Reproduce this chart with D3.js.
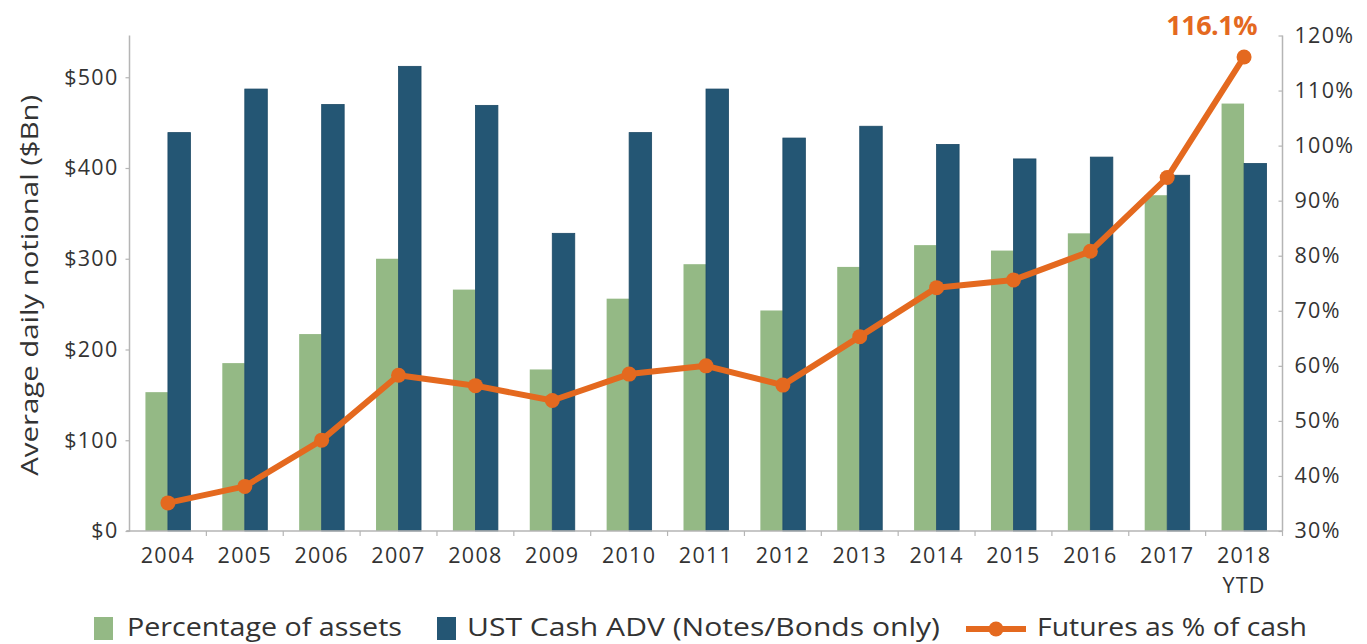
<!DOCTYPE html>
<html><head><meta charset="utf-8">
<script src="https://cdn.jsdelivr.net/npm/d3@7"></script>
<style>
html,body{margin:0;padding:0;background:#fff;}
svg{display:block;font-family:"Open Sans",sans-serif;}
</style></head>
<body><svg id="chart" width="1367" height="644"></svg>
<script>
const years = ["2004","2005","2006","2007","2008","2009","2010","2011","2012","2013","2014","2015","2016","2017","2018"];
const xTickLabels = [["2004"],["2005"],["2006"],["2007"],["2008"],["2009"],["2010"],["2011"],["2012"],["2013"],["2014"],["2015"],["2016"],["2017"],["2018","YTD"]];
const pctAssets = [153,185,217,300,266,178,256,294,243,291,315,309,328,370,471];
const ustCash = [439,487,470,512,469,328,439,487,433,446,426,410,412,392,405];
const futuresPct = [35.1,38.1,46.5,58.3,56.4,53.7,58.5,60.0,56.5,65.3,74.2,75.6,80.8,94.2,116.1];
const leftTicks = [0,100,200,300,400,500];
const rightTicks = [30,40,50,60,70,80,90,100,110,120];
const seriesNames = ["Percentage of assets","UST Cash ADV (Notes/Bonds only)","Futures as % of cash"];
const yTitle = "Average daily notional ($Bn)";
const peakLabel = "116.1%";

const C_GREEN = "#94b985", C_BLUE = "#245674", C_ORANGE = "#e4691f", C_AXIS = "#b5b5b5", C_TEXT = "#333";
const svg = d3.select("#chart");
const x0 = 129.5, x1 = 1282.5, yBot = 531, yTop = 35.5;

const x = d3.scaleBand().domain(years).range([x0, x1]).padding(0);
const yL = d3.scaleLinear().domain([0, 546]).range([yBot, yTop]);
const yR = d3.scaleLinear().domain([30, 120]).range([yBot, yTop]);
const bw = 22.5;
const cx = d => x(d) + x.bandwidth() / 2;

// bars
const g = svg.append("g");
g.selectAll("rect.green").data(years).join("rect")
  .attr("x", d => cx(d) - bw).attr("width", bw)
  .attr("y", (d, i) => yL(pctAssets[i])).attr("height", (d, i) => yBot - yL(pctAssets[i]))
  .attr("fill", C_GREEN);
g.selectAll("rect.blue").data(years).join("rect")
  .attr("x", d => cx(d)).attr("width", bw)
  .attr("y", (d, i) => yL(ustCash[i])).attr("height", (d, i) => yBot - yL(ustCash[i]))
  .attr("fill", C_BLUE).attr("stroke", "#1d4a66").attr("stroke-width", 0.8);

// axes
const axL = svg.append("g").attr("transform", `translate(${x0},0)`)
  .call(d3.axisLeft(yL).tickValues(leftTicks).tickFormat(d => "$" + d).tickSize(4).tickPadding(7));
const axR = svg.append("g").attr("transform", `translate(${x1},0)`)
  .call(d3.axisRight(yR).tickValues(rightTicks).tickFormat(d => d + "%").tickSize(0).tickPadding(12));
axR.selectAll(".tick line").attr("x1", -4).attr("x2", 0);
const axB = svg.append("g").attr("transform", `translate(0,${yBot})`)
  .call(d3.axisBottom(x).tickSize(0).tickFormat(""));
[axL, axR, axB].forEach(a => {
  a.select(".domain").attr("stroke", C_AXIS).attr("stroke-width", 1.5);
  a.selectAll(".tick line").attr("stroke", C_AXIS).attr("stroke-width", 1.2);
  a.selectAll("text").attr("fill", C_TEXT).style("font-size", "21.5px").style("font-family", "Open Sans").attr("letter-spacing", "1.3px");
});
axL.select(".domain").attr("d", `M-3,${yBot}H0V${yTop}`);
axR.select(".domain").attr("d", `M0,${yBot}V${yTop}`);
axB.select(".domain").attr("d", `M${x0 - 3},0H${x1}`);
// category separators
const seps = years.map(d => x(d)).slice(1).concat([x1]);
axB.selectAll("line.sep").data(seps).join("line").attr("class", "sep")
  .attr("x1", d => d).attr("x2", d => d).attr("y1", 0).attr("y2", 5)
  .attr("stroke", C_AXIS).attr("stroke-width", 1.2);
// x labels
const xl = svg.append("g");
years.forEach((d, i) => {
  const lines = xTickLabels[i];
  lines.forEach((s, j) => xl.append("text").attr("x", cx(d)).attr("y", 563 + j * 29.5)
    .attr("text-anchor", "middle").attr("fill", C_TEXT).style("font-size", "21.5px")
    .attr("letter-spacing", "1.3px").text(s));
});

// y title
svg.append("text").attr("transform", `translate(32,${(yBot + yTop) / 2 + 2}) rotate(-90)`)
  .attr("text-anchor", "middle").attr("dominant-baseline", "middle")
  .attr("fill", C_TEXT).style("font-size", "24px").attr("textLength", 381).attr("lengthAdjust", "spacingAndGlyphs")
  .text(yTitle);

// line
const line = d3.line().x((d, i) => cx(years[i])).y(d => yR(d));
svg.append("path").datum(futuresPct).attr("d", line).attr("fill", "none")
  .attr("stroke", C_ORANGE).attr("stroke-width", 6).attr("stroke-linejoin", "round");
svg.selectAll("circle.pt").data(futuresPct).join("circle")
  .attr("cx", (d, i) => cx(years[i])).attr("cy", d => yR(d)).attr("r", 7.5).attr("fill", C_ORANGE);
const last = futuresPct.length - 1;
svg.append("text").attr("x", cx(years[last]) + 13).attr("y", yR(futuresPct[last]) - 22)
  .attr("text-anchor", "end").attr("fill", C_ORANGE).style("font-size", "27px").style("font-weight", "700")
  .attr("letter-spacing", "-0.5px").text(peakLabel);

// legend
const lg = svg.append("g");
const ly = 629;
lg.append("rect").attr("x", 94).attr("y", 617).attr("width", 19).attr("height", 23).attr("fill", C_GREEN);
lg.append("text").attr("x", 127).attr("y", ly).attr("dominant-baseline", "middle").attr("fill", C_TEXT)
  .style("font-size", "25px").attr("textLength", 275).attr("lengthAdjust", "spacingAndGlyphs").text(seriesNames[0]);
lg.append("rect").attr("x", 437).attr("y", 617).attr("width", 19).attr("height", 23).attr("fill", C_BLUE);
lg.append("text").attr("x", 467).attr("y", ly).attr("dominant-baseline", "middle").attr("fill", C_TEXT)
  .style("font-size", "25px").attr("textLength", 473).attr("lengthAdjust", "spacingAndGlyphs").text(seriesNames[1]);
lg.append("line").attr("x1", 966).attr("x2", 1026).attr("y1", ly).attr("y2", ly).attr("stroke", C_ORANGE).attr("stroke-width", 6);
lg.append("circle").attr("cx", 996).attr("cy", ly).attr("r", 7.5).attr("fill", C_ORANGE);
lg.append("text").attr("x", 1037).attr("y", ly).attr("dominant-baseline", "middle").attr("fill", C_TEXT)
  .style("font-size", "25px").attr("textLength", 270).attr("lengthAdjust", "spacingAndGlyphs").text(seriesNames[2]);
</script></body></html>
